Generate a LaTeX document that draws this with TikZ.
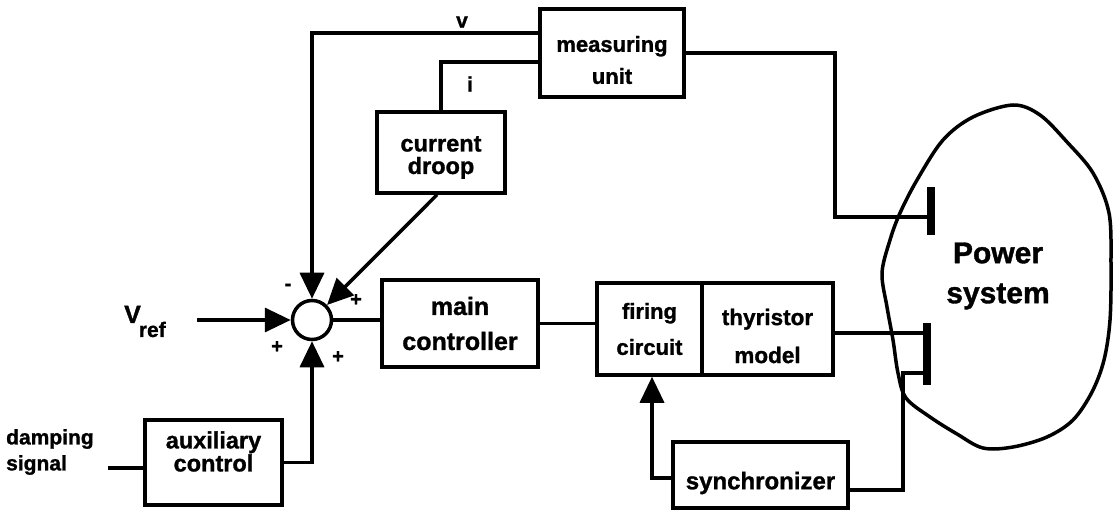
\documentclass[tikz,border=0pt]{standalone}
\usepackage{fontspec}
\setmainfont{Liberation Sans}[BoldFeatures={FakeBold=1.2}]
\usetikzlibrary{arrows.meta,calc}
\newcommand\bxf[2]{\fontsize{#1}{#2}\selectfont\bfseries}
\begin{document}
\begin{tikzpicture}[x=1pt,y=-1pt,
  ln/.style={line width=3.5pt},
  blk/.style={draw, line width=3.5pt, rectangle, inner sep=0pt},
  txt/.style={inner sep=0pt, align=center},
  arr/.style={line width=3.5pt, -{Triangle[length=26pt,width=24pt]}},
  bus/.style={fill=black, draw=none, inner sep=0pt, minimum width=8pt},
  sgn/.style={inner sep=0pt, font=\bxf{20}{20}},
  lbl/.style={inner sep=0pt, font=\bxf{21}{21}}]
\useasboundingbox (0,0) rectangle (1113,518);

% blocks
\node[blk, minimum width=144pt, minimum height=88pt,
  label={[txt, font=\bxf{22}{32}, yshift=-7pt]center:measuring\\unit}] (mu) at (612,53) {};
\node[blk, minimum width=128pt, minimum height=81pt,
  label={[txt, font=\bxf{23.5}{22.5}, yshift=-5pt]center:current\\droop}] (cd) at (441,152.5) {};
\node[blk, minimum width=156pt, minimum height=87pt,
  label={[txt, font=\bxf{25}{35}]center:main\\controller}] (mc) at (460,323.5) {};
\node[blk, minimum width=105pt, minimum height=92pt,
  label={[txt, font=\bxf{22}{36}]center:firing\\circuit}] (fc) at (649.5,329) {};
\node[blk, minimum width=131pt, minimum height=92pt,
  label={[txt, font=\bxf{22.5}{38}, yshift=-7pt]center:thyristor\\model}] (tm) at (767.5,329) {};
\node[blk, minimum width=175pt, minimum height=66pt,
  label={[txt, font=\bxf{24}{24}, yshift=-8pt]center:synchronizer}] (sy) at (760.5,475) {};
\node[blk, minimum width=137pt, minimum height=85pt,
  label={[txt, font=\bxf{23.5}{23}, yshift=11pt]center:auxiliary\\control}] (ac) at (213.5,462.5) {};
\node[draw, circle, line width=3.5pt, minimum size=39pt, inner sep=0pt] (sum) at (312,320) {};

% bus bars
\node[bus, minimum height=48pt] (b1) at (931,211) {};
\node[bus, minimum height=62pt] (b2) at (927,354) {};

% power system outline
\draw[ln] plot[smooth cycle, tension=0.55] coordinates {
 (1013,105) (1040,115) (1067,142) (1093,173) (1109,213) (1111,265) (1110,320)
 (1104,360) (1092,392) (1073,420) (1047,437) (1013,447) (983,448) (957,434)
 (930,417) (906,398) (898,373) (893,340) (887,307) (882,273) (890,240)
 (900,213) (917,180) (943,140) (973,117)};
\node[inner sep=0pt, align=center, font=\bxf{30}{40}] (ps) at (998,276) {Power\\system};

% coordinates
\coordinate (vtap) at (540,33);
\coordinate (itap) at (540,62);
\coordinate (vref) at (197,320);
\coordinate (k1) at (835,217);
\coordinate (k2) at (903,373);
\coordinate (k3) at (903,490);
\coordinate (k4) at (652,478);
\coordinate (k5) at (833,333);
\coordinate (dmp) at (108,468);

% connectors
\draw[arr] (vtap) -| (sum.north);
\draw[ln] (itap) -| (cd.north);
\draw[arr] ([xshift=-4pt]cd.south) -- (sum.north east);
\draw[arr] (vref) -- (sum.west);
\draw[arr] (ac.east) -| (sum.south);
\draw[ln] (dmp) -- (dmp -| ac.west);
\draw[ln] (sum.east) -- (sum.east -| mc.west);
\draw[ln] (mc.east) -- (mc.east -| fc.west);
\draw[ln] (mu.east) -| (k1) -- (k1 -| b1.west);
\draw[ln] (k5) -- (k5 -| b2.west);
\draw[ln] (b2.west |- k2) -- (k2) -- (k3) -- (k3 -| sy.east);
\draw[arr] (k4 -| sy.west) -- (k4) -- (k4 |- fc.south);

% labels
\node[lbl] (lv) at (462,22) {v};
\node[lbl] (li) at (470,84) {i};
\node[inner sep=0pt, anchor=base west] (lvref) at (124,323)
  {\bxf{25}{25}V\kern-2pt\bxf{21}{21}\raisebox{-14pt}{ref}};
\node[inner sep=0pt, anchor=west, align=left, font=\bxf{21}{26}] (ldamp) at (6,452) {damping\\signal};
\node[sgn] (s1) at (288,287) {-};
\node[sgn] (s2) at (277,347) {+};
\node[sgn] (s3) at (338,357) {+};
\node[sgn] (s4) at (356,300) {+};
\end{tikzpicture}
\end{document}
